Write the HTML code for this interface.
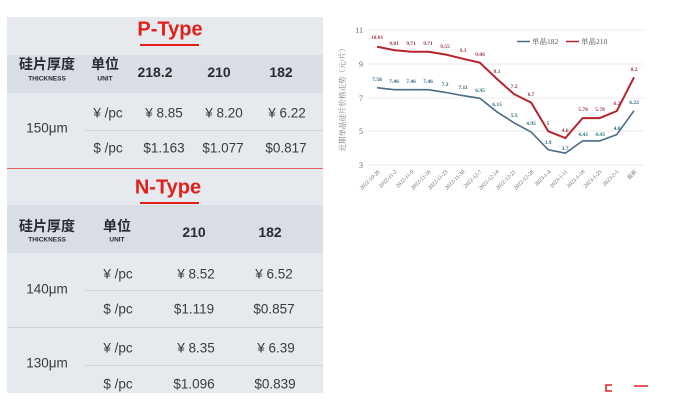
<!DOCTYPE html><html><head><meta charset="utf-8"><style>
body{margin:0;width:680px;height:411px;background:#fff;position:relative;overflow:hidden;font-family:"Liberation Sans","Noto Sans CJK SC",sans-serif}
.p{position:absolute;left:7px;top:17px;width:316px;height:376px;background:#e6e9ee}
.t{position:absolute;transform:translate(-50%,-50%);white-space:nowrap;color:#333}
.b{font-weight:bold;color:#2a2a33}
.r{color:#e0201b;font-weight:bold;font-size:20px}
.v{font-size:13.5px;color:#3a3a40}
.h{position:absolute;left:7px;width:316px;background:#d9dde4}
.l{position:absolute;height:1px;background:#d0d4da}
</style></head><body>
<div class="p"></div>
<div class="h" style="top:55px;height:38px"></div>
<div class="h" style="top:205px;height:48px"></div>
<div class="t r" style="left:170px;top:30px">P-Type</div>
<div style="position:absolute;left:140px;top:44px;width:59px;height:2px;background:#e0201b"></div>
<div class="t b" style="left:47px;top:64px;font-size:14px">硅片厚度</div>
<div class="t b" style="left:47px;top:79px;font-size:6.5px">THICKNESS</div>
<div class="t b" style="left:105px;top:64px;font-size:14px">单位</div>
<div class="t b" style="left:105px;top:79px;font-size:6.5px">UNIT</div>
<div class="t b" style="left:155px;top:72px;font-size:14px">218.2</div>
<div class="t b" style="left:219px;top:72px;font-size:14px">210</div>
<div class="t b" style="left:281px;top:72px;font-size:14px">182</div>
<div class="t v" style="left:47px;top:128px">150μm</div>
<div class="t v" style="left:108px;top:113px">¥ /pc</div>
<div class="t v" style="left:164px;top:113px">¥ 8.85</div>
<div class="t v" style="left:224px;top:113px">¥ 8.20</div>
<div class="t v" style="left:287px;top:113px">¥ 6.22</div>
<div class="l" style="left:85px;top:130px;width:238px"></div>
<div class="t v" style="left:108px;top:148px">$ /pc</div>
<div class="t v" style="left:164px;top:148px">$1.163</div>
<div class="t v" style="left:223px;top:148px">$1.077</div>
<div class="t v" style="left:286px;top:148px">$0.817</div>
<div style="position:absolute;left:7px;top:168px;width:316px;height:1px;background:#e06060"></div>
<div class="t r" style="left:168px;top:188px">N-Type</div>
<div style="position:absolute;left:140px;top:202px;width:59px;height:2px;background:#e0201b"></div>
<div class="t b" style="left:47px;top:226px;font-size:14px">硅片厚度</div>
<div class="t b" style="left:47px;top:240px;font-size:6.5px">THICKNESS</div>
<div class="t b" style="left:117px;top:226px;font-size:14px">单位</div>
<div class="t b" style="left:117px;top:240px;font-size:6.5px">UNIT</div>
<div class="t b" style="left:194px;top:232px;font-size:14px">210</div>
<div class="t b" style="left:270px;top:232px;font-size:14px">182</div>
<div class="t v" style="left:47px;top:289px">140μm</div>
<div class="t v" style="left:118px;top:274px">¥ /pc</div>
<div class="t v" style="left:196px;top:274px">¥ 8.52</div>
<div class="t v" style="left:274px;top:274px">¥ 6.52</div>
<div class="l" style="left:85px;top:290px;width:238px"></div>
<div class="t v" style="left:118px;top:309px">$ /pc</div>
<div class="t v" style="left:194px;top:309px">$1.119</div>
<div class="t v" style="left:274px;top:309px">$0.857</div>
<div class="l" style="left:7px;top:327px;width:316px"></div>
<div class="t v" style="left:47px;top:363px">130μm</div>
<div class="t v" style="left:118px;top:348px">¥ /pc</div>
<div class="t v" style="left:196px;top:348px">¥ 8.35</div>
<div class="t v" style="left:276px;top:348px">¥ 6.39</div>
<div class="l" style="left:85px;top:365px;width:238px"></div>
<div class="t v" style="left:118px;top:384px">$ /pc</div>
<div class="t v" style="left:194px;top:384px">$1.096</div>
<div class="t v" style="left:275px;top:384px">$0.839</div>

<svg style="position:absolute;left:0;top:0" width="680" height="411" font-family="Liberation Serif,Noto Serif CJK SC,serif">
<g stroke="#e4e4e4" stroke-width="0.7">
<line x1="368" y1="30" x2="644" y2="30"/><line x1="368" y1="64" x2="644" y2="64"/><line x1="368" y1="98" x2="644" y2="98"/><line x1="368" y1="131" x2="644" y2="131"/><line x1="368" y1="165" x2="644" y2="165"/></g>
<g font-size="8" fill="#666" text-anchor="end"><text x="363" y="33">11</text><text x="363" y="67">9</text><text x="363" y="101">7</text><text x="363" y="134">5</text><text x="363" y="168">3</text></g>
<text transform="translate(345,98) rotate(-90)" font-size="7.5" fill="#777" text-anchor="middle">近期单晶硅片价格走势（元/片）</text>
<polyline fill="none" stroke="#b5232b" stroke-width="2" points="377,46.7 394.1,50.1 411.3,51.8 428.4,51.8 445.5,54.5 462.7,58.7 479.8,62.7 496.9,78.9 514,94.1 531.2,102.6 548.3,131.3 565.4,138 582.6,118.1 599.7,118.1 616.8,111 634,77.3"/>
<polyline fill="none" stroke="#4a6a8a" stroke-width="1.6" points="377,87.7 394.1,89.7 411.3,89.7 428.4,89.7 445.5,92.4 462.7,95.6 479.8,98.3 496.9,111.8 514,122.8 531.2,132.1 548.3,149.8 565.4,153.2 582.6,140.9 599.7,140.9 616.8,134.6 634,110.7"/>
<g font-size="5.5" font-weight="bold" fill="#9a3a4a" text-anchor="middle">
<text x="377" y="39">10.01</text><text x="394" y="45">9.81</text><text x="411" y="45">9.71</text><text x="428" y="45">9.71</text><text x="445" y="48">9.55</text><text x="463" y="52">9.3</text><text x="480" y="56">9.06</text><text x="497" y="73">8.1</text><text x="514" y="88">7.2</text><text x="531" y="96">6.7</text><text x="548" y="125">5</text><text x="565" y="132">4.6</text><text x="583" y="111">5.78</text><text x="600" y="111">5.78</text><text x="617" y="105">6.2</text><text x="634" y="71">8.2</text></g>
<g font-size="5.5" font-weight="bold" fill="#2a6a7a" text-anchor="middle">
<text x="377" y="81">7.58</text><text x="394" y="83">7.46</text><text x="411" y="83">7.46</text><text x="428" y="83">7.46</text><text x="445" y="86">7.3</text><text x="463" y="89">7.11</text><text x="480" y="92">6.95</text><text x="497" y="106">6.15</text><text x="514" y="117">5.5</text><text x="531" y="125">4.95</text><text x="548" y="144">3.9</text><text x="565" y="150">3.7</text><text x="583" y="136">4.43</text><text x="600" y="136">4.43</text><text x="617" y="130">4.8</text><text x="634" y="104">6.22</text></g>
<line x1="517" y1="41.5" x2="530" y2="41.5" stroke="#4a6a8a" stroke-width="1.5"/><text x="532" y="44" font-size="7.5" fill="#555">单晶182</text>
<line x1="566" y1="41.5" x2="579" y2="41.5" stroke="#b5232b" stroke-width="1.5"/><text x="581" y="44" font-size="7.5" fill="#555">单晶210</text>
<g font-size="5.5" fill="#666" text-anchor="end">
<text transform="translate(380,172) rotate(-45)">2022-10-26</text><text transform="translate(397,172) rotate(-45)">2022-11-2</text><text transform="translate(414,172) rotate(-45)">2022-11-9</text><text transform="translate(431,172) rotate(-45)">2022-11-16</text><text transform="translate(448,172) rotate(-45)">2022-11-23</text><text transform="translate(465,172) rotate(-45)">2022-11-30</text><text transform="translate(482,172) rotate(-45)">2022-12-7</text><text transform="translate(499,172) rotate(-45)">2022-12-14</text><text transform="translate(516,172) rotate(-45)">2022-12-21</text><text transform="translate(534,172) rotate(-45)">2022-12-28</text><text transform="translate(551,172) rotate(-45)">2023-1-4</text><text transform="translate(568,172) rotate(-45)">2023-1-11</text><text transform="translate(585,172) rotate(-45)">2023-1-18</text><text transform="translate(602,172) rotate(-45)">2023-1-25</text><text transform="translate(619,172) rotate(-45)">2023-2-1</text><text transform="translate(637,172) rotate(-45)">最新</text></g>
<path d="M612,385 h-6 v6 h6" fill="none" stroke="#e0201b" stroke-width="1.5"/>
<line x1="634" y1="386" x2="648" y2="386" stroke="#e0201b" stroke-width="1.5"/>
</svg>
</body></html>
